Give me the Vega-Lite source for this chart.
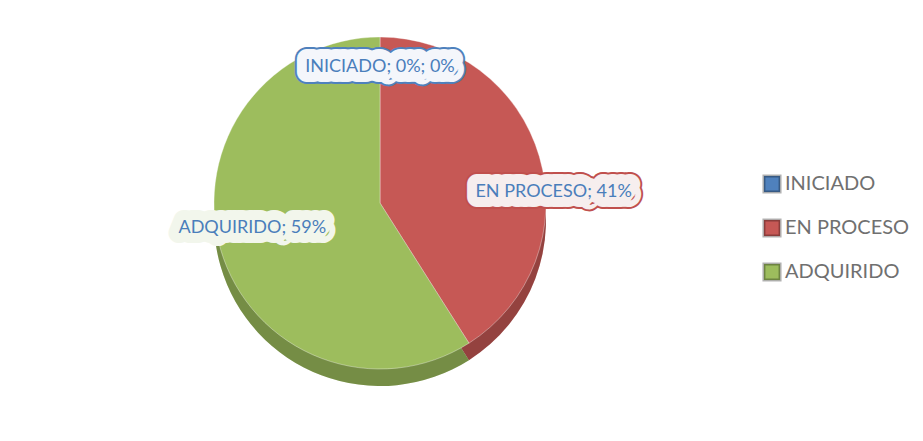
{
  "$schema": "https://vega.github.io/schema/vega-lite/v6.json",
  "width": 440,
  "height": 340,
  "autosize": {"type": "none"},
  "padding": {"left": 160, "top": 33, "right": 323, "bottom": 68},
  "background": "#ffffff",
  "config": {"view": {"stroke": null}, "font": "Lato"},
  "data": {"values": [
    {"estado": "INICIADO", "valor": 0, "orden": 1, "etiqueta": "INICIADO; 0%; 0%"},
    {"estado": "EN PROCESO", "valor": 41, "orden": 2, "etiqueta": "EN PROCESO; 41%"},
    {"estado": "ADQUIRIDO", "valor": 59, "orden": 3, "etiqueta": "ADQUIRIDO; 59%"}
  ]},
  "encoding": {
    "theta": {"field": "valor", "type": "quantitative", "stack": true},
    "order": {"field": "orden", "type": "quantitative"}
  },
  "layer": [
    {
      "mark": {"type": "arc", "outerRadius": 166, "yOffset": 17},
      "encoding": {
        "color": {"field": "estado", "type": "nominal",
          "scale": {"domain": ["INICIADO", "EN PROCESO", "ADQUIRIDO"], "range": ["#4F81BD", "#C65855", "#9DBD5D"]},
          "legend": {"title": null, "orient": "none", "legendX": 602, "legendY": 141, "padding": 0,
            "symbolType": "square", "symbolSize": 260, "symbolStrokeWidth": 3, "symbolStrokeColor": "rgba(0,0,0,0.3)", "symbolOpacity": 1,
            "labelFontSize": 20, "labelFont": "Lato", "labelColor": "#707070", "labelOffset": 3,
            "rowPadding": 14, "labelLimit": 300}}
      }
    },
    {
      "mark": {"type": "arc", "outerRadius": 166, "yOffset": 17, "fill": "#000000", "fillOpacity": 0.25}
    },
    {
      "mark": {"type": "arc", "outerRadius": 166, "stroke": "#ffffff", "strokeWidth": 0.6, "strokeOpacity": 0.6},
      "encoding": {
        "color": {"field": "estado", "type": "nominal",
          "scale": {"domain": ["INICIADO", "EN PROCESO", "ADQUIRIDO"], "range": ["#4F81BD", "#C65855", "#9DBD5D"]},
          "legend": {"title": null, "orient": "none", "legendX": 602, "legendY": 141, "padding": 0,
            "symbolType": "square", "symbolSize": 260, "symbolStrokeWidth": 3, "symbolStrokeColor": "rgba(0,0,0,0.3)", "symbolOpacity": 1,
            "labelFontSize": 20, "labelFont": "Lato", "labelColor": "#707070", "labelOffset": 3,
            "rowPadding": 14, "labelLimit": 300}}
      }
    },
    {
      "mark": {"type": "text", "radius": 136, "font": "Lato", "fontSize": 18, "stroke": "#4F81BD", "strokeWidth": 24, "strokeJoin": "round", "fill": "#4F81BD"},
      "encoding": {"text": {"field": "etiqueta"}, "opacity": {"condition": {"test": "datum.estado === 'INICIADO'", "value": 1}, "value": 0}}
    },
    {
      "mark": {"type": "text", "radius": 136, "font": "Lato", "fontSize": 18, "stroke": "#f4f6fb", "strokeWidth": 20, "strokeJoin": "round", "fill": "#f4f6fb"},
      "encoding": {"text": {"field": "etiqueta"}, "opacity": {"condition": {"test": "datum.estado === 'INICIADO'", "value": 1}, "value": 0}}
    },
    {
      "mark": {"type": "text", "radius": 136, "font": "Lato", "fontSize": 18, "fill": "#4A7EBB"},
      "encoding": {"text": {"field": "etiqueta"}, "opacity": {"condition": {"test": "datum.estado === 'INICIADO'", "value": 1}, "value": 0}}
    },
    {
      "mark": {"type": "text", "radius": 160, "dx": 20, "dy": 34, "font": "Lato", "fontSize": 18, "stroke": "#C0504D", "strokeWidth": 24, "strokeJoin": "round", "fill": "#C0504D"},
      "encoding": {"text": {"field": "etiqueta"}, "opacity": {"condition": {"test": "datum.estado === 'EN PROCESO'", "value": 1}, "value": 0}}
    },
    {
      "mark": {"type": "text", "radius": 160, "dx": 20, "dy": 34, "font": "Lato", "fontSize": 18, "stroke": "#f6eeee", "strokeWidth": 20, "strokeJoin": "round", "fill": "#f6eeee"},
      "encoding": {"text": {"field": "etiqueta"}, "opacity": {"condition": {"test": "datum.estado === 'EN PROCESO'", "value": 1}, "value": 0}}
    },
    {
      "mark": {"type": "text", "radius": 160, "dx": 20, "dy": 34, "font": "Lato", "fontSize": 18, "fill": "#4A7EBB"},
      "encoding": {"text": {"field": "etiqueta"}, "opacity": {"condition": {"test": "datum.estado === 'EN PROCESO'", "value": 1}, "value": 0}}
    },
    {
      "mark": {"type": "text", "radius": 133, "dy": -12, "font": "Lato", "fontSize": 18, "stroke": "#f2f6ec", "strokeWidth": 20, "strokeJoin": "round", "fill": "#f2f6ec"},
      "encoding": {"text": {"field": "etiqueta"}, "opacity": {"condition": {"test": "datum.estado === 'ADQUIRIDO'", "value": 1}, "value": 0}}
    },
    {
      "mark": {"type": "text", "radius": 133, "dy": -12, "font": "Lato", "fontSize": 18, "fill": "#4A7EBB"},
      "encoding": {"text": {"field": "etiqueta"}, "opacity": {"condition": {"test": "datum.estado === 'ADQUIRIDO'", "value": 1}, "value": 0}}
    }
  ]
}
